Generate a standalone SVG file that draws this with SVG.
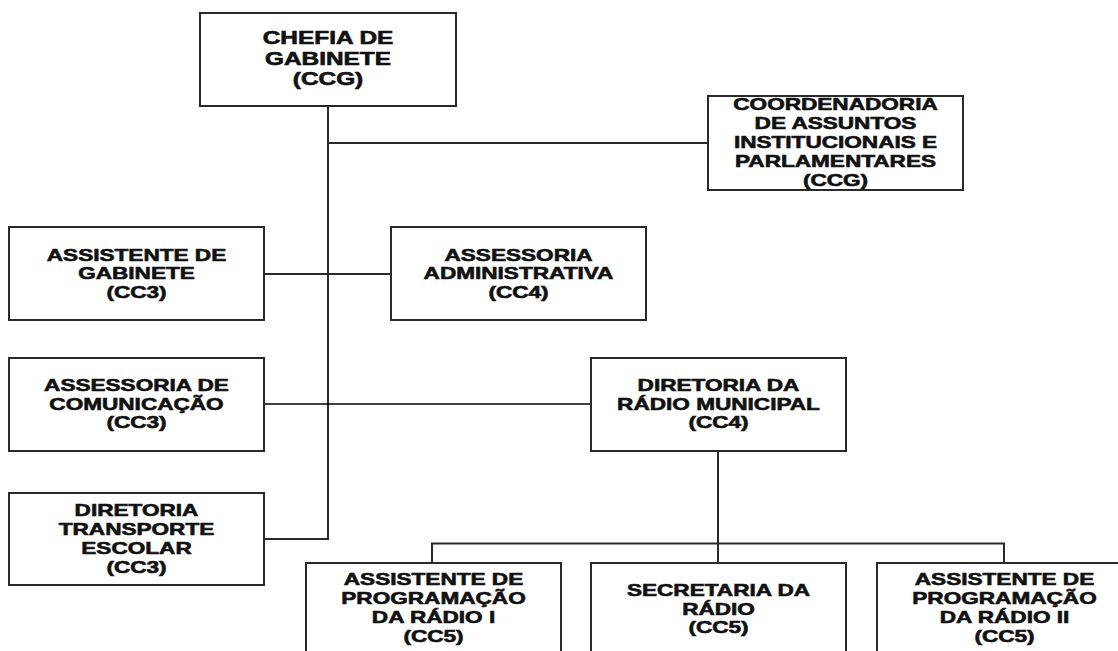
<svg xmlns="http://www.w3.org/2000/svg" width="1118" height="651" viewBox="0 0 1118 651">
<style>
.box{fill:#fff;stroke:#2a2a2a;stroke-width:2}
.lbl{font-family:"Liberation Sans",Arial,sans-serif;font-weight:bold;font-size:16.5px;fill:#111;stroke:#111;stroke-width:0.6;text-anchor:middle}
.big{font-size:17.7px}
.con{fill:none;stroke:#2a2a2a;stroke-width:2}
.thin{fill:none;stroke:#000;stroke-width:1.5}
</style>
<rect width="1118" height="651" fill="#fff"/>
<g id="connectors">
<path class="con" d="M328 106 V539 H264"/>
<path class="con" d="M328 143 H708"/>
<path class="con" d="M264 274 H391"/>
<path class="thin" d="M264 404 H591"/>
<path class="con" d="M718 451 V563"/>
<path class="con" d="M432 563 V543.5 H1004 V563"/>
</g>
<g id="chefia">
<rect class="box" x="200" y="13" width="256" height="93"/>
<text class="lbl big" transform="translate(328 0) scale(1.38 1)"><tspan x="0" y="44.5">CHEFIA DE</tspan><tspan x="0" y="65">GABINETE</tspan><tspan x="0" y="85.5">(CCG)</tspan></text>
</g>
<g id="coordenadoria">
<rect class="box" x="708" y="96" width="255" height="94"/>
<text class="lbl" transform="translate(835.5 0) scale(1.37 1)"><tspan x="0" y="110.5">COORDENADORIA</tspan><tspan x="0" y="129.5">DE ASSUNTOS</tspan><tspan x="0" y="148.5">INSTITUCIONAIS E</tspan><tspan x="0" y="167.5">PARLAMENTARES</tspan><tspan x="0" y="186.5">(CCG)</tspan></text>
</g>
<g id="assistente-gabinete">
<rect class="box" x="9" y="227" width="255" height="93"/>
<text class="lbl" transform="translate(136.5 0) scale(1.37 1)"><tspan x="0" y="261">ASSISTENTE DE</tspan><tspan x="0" y="279.5">GABINETE</tspan><tspan x="0" y="298">(CC3)</tspan></text>
</g>
<g id="assessoria-administrativa">
<rect class="box" x="391" y="227" width="255" height="93"/>
<text class="lbl" transform="translate(518.5 0) scale(1.37 1)"><tspan x="0" y="261">ASSESSORIA</tspan><tspan x="0" y="279.5">ADMINISTRATIVA</tspan><tspan x="0" y="298">(CC4)</tspan></text>
</g>
<g id="assessoria-comunicacao">
<rect class="box" x="9" y="358" width="255" height="93"/>
<text class="lbl" transform="translate(136.5 0) scale(1.37 1)"><tspan x="0" y="391.5">ASSESSORIA DE</tspan><tspan x="0" y="410">COMUNICAÇÃO</tspan><tspan x="0" y="428.5">(CC3)</tspan></text>
</g>
<g id="diretoria-radio">
<rect class="box" x="591" y="358" width="255" height="93"/>
<text class="lbl" transform="translate(718.5 0) scale(1.37 1)"><tspan x="0" y="391.5">DIRETORIA DA</tspan><tspan x="0" y="410">RÁDIO MUNICIPAL</tspan><tspan x="0" y="428.5">(CC4)</tspan></text>
</g>
<g id="diretoria-transporte">
<rect class="box" x="9" y="493" width="255" height="92"/>
<text class="lbl" transform="translate(136.5 0) scale(1.37 1)"><tspan x="0" y="516.5">DIRETORIA</tspan><tspan x="0" y="535.5">TRANSPORTE</tspan><tspan x="0" y="554.5">ESCOLAR</tspan><tspan x="0" y="573.5">(CC3)</tspan></text>
</g>
<g id="assistente-programacao-1">
<rect class="box" x="306" y="563" width="255" height="94"/>
<text class="lbl" transform="translate(433.5 0) scale(1.37 1)"><tspan x="0" y="585.5">ASSISTENTE DE</tspan><tspan x="0" y="604.5">PROGRAMAÇÃO</tspan><tspan x="0" y="623.5">DA RÁDIO I</tspan><tspan x="0" y="642.5">(CC5)</tspan></text>
</g>
<g id="secretaria-radio">
<rect class="box" x="591" y="563" width="255" height="94"/>
<text class="lbl" transform="translate(718.5 0) scale(1.37 1)"><tspan x="0" y="596.5">SECRETARIA DA</tspan><tspan x="0" y="615">RÁDIO</tspan><tspan x="0" y="633.5">(CC5)</tspan></text>
</g>
<g id="assistente-programacao-2">
<rect class="box" x="877" y="563" width="255" height="94"/>
<text class="lbl" transform="translate(1004.5 0) scale(1.37 1)"><tspan x="0" y="585.5">ASSISTENTE DE</tspan><tspan x="0" y="604.5">PROGRAMAÇÃO</tspan><tspan x="0" y="623.5">DA RÁDIO II</tspan><tspan x="0" y="642.5">(CC5)</tspan></text>
</g>
</svg>
